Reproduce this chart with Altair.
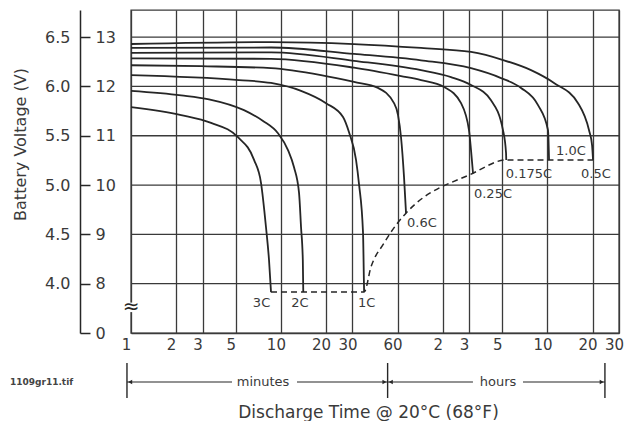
import altair as alt
import pandas as pd

# ---------------- data ----------------
curve_names = ["3C", "2C", "1C", "0.6C", "0.25C", "0.175C", "0.1C", "0.05C"]

t_3c = [1, 2.16, 3.42, 5.17, 6.62, 7.37, 7.95, 8.33, 8.59]
v_3c = [11.58, 11.42, 11.26, 10.97, 10.51, 10.04, 9.15, 8.48, 7.83]

t_2c = [1, 2.16, 3.31, 5.67, 7.60, 9.56, 11.15, 12.23, 13.21, 13.62, 14.0, 14.1]
v_2c = [11.91, 11.82, 11.74, 11.52, 11.30, 11.05, 10.71, 10.36, 9.84, 9.15, 8.48, 7.83]

t_1c = [1, 5.25, 8.59, 13.62, 20.0, 25.96, 28.47, 31.70, 33.19, 35.3, 35.8, 35.9]
v_1c = [12.23, 12.13, 12.07, 11.91, 11.66, 11.38, 11.07, 10.51, 10.02, 9.03, 8.01, 7.83]

t_06c = [1, 2.93, 8.59, 18.5, 30.73, 44.44, 56.82, 60.42, 63.27, 66.26, 68.33]
v_06c = [12.43, 12.41, 12.37, 12.23, 12.09, 11.97, 11.66, 11.42, 10.97, 10.16, 9.43]

t_025c = [1, 8.59, 30.73, 63.27, 86.03, 122.5, 159.1, 179.8, 185.4, 191.2]
v_025c = [12.57, 12.56, 12.38, 12.21, 12.13, 11.99, 11.66, 11.11, 10.71, 10.24]

t_0175c = [1, 8.59, 30.73, 86.03, 136.4, 185.4, 252.1, 303.2, 317.5, 318.5]
v_0175c = [12.68, 12.69, 12.52, 12.33, 12.19, 12.03, 11.72, 11.11, 10.65, 10.51]

t_01c = [1, 8.59, 30.73, 86.03, 185.4, 294.0, 399.7, 519.0, 605.2, 614.6]
v_01c = [12.78, 12.79, 12.66, 12.53, 12.37, 12.17, 11.97, 11.62, 11.11, 10.51]

t_005c = [1, 8.59, 30.73, 86.03, 185.4, 307.8, 466.1, 663.5, 959.4, 1136, 1190, 1208]
v_005c = [12.86, 12.90, 12.86, 12.78, 12.70, 12.53, 12.33, 12.07, 11.66, 11.11, 10.81, 10.51]

curve_t = [t_3c, t_2c, t_1c, t_06c, t_025c, t_0175c, t_01c, t_005c]
curve_v = [v_3c, v_2c, v_1c, v_06c, v_025c, v_0175c, v_01c, v_005c]

# end-of-discharge (dashed) line
end_t = [8.59, 35.9, 39.9, 48.7, 58.6, 68.33, 191.2, 318.5, 1208]
end_v = [7.83, 7.83, 8.34, 8.82, 9.19, 9.43, 10.24, 10.51, 10.51]

# curve labels
label_text = ["3C", "2C", "1C", "0.6C", "0.25C", "0.175C", "1.0C", "0.5C"]
label_t = [6.5, 11.7, 32.7, 69.4, 194, 316, 684, 1005]
label_v = [7.61, 7.61, 7.61, 9.23, 9.82, 10.22, 10.69, 10.22]

# axes
x_tick_values = [1, 2, 3, 5, 10, 20, 30, 60, 120, 180, 300, 600, 1200, 1800]
x_tick_labels = ["1", "2", "3", "5", "10", "20", "30", "60", "2", "3", "5", "10", "20", "30"]
y_tick_values = [7, 8, 9, 10, 11, 12, 13]
y_labels_12v = ["0", "8", "9", "10", "11", "12", "13"]
y6_tick_values = [8, 9, 10, 11, 12, 13]
y_labels_6v = ["4.0", "4.5", "5.0", "5.5", "6.0", "6.5"]
grid_v = [8, 9, 10, 11, 12, 13]

# minutes / hours span row
span_bar_t = [0.94, 51.5, 1450]
span_seg_start = [0.94, 12.8, 51.5, 412]
span_seg_end = [4.72, 51.5, 191, 1450]
span_text = ["minutes", "hours"]
span_text_t = [7.6, 281]
arrow_t = [0.94 * 1.05, 51.5 / 1.05, 51.5 * 1.05, 1450 / 1.05]
arrow_shape = ["triangle-left", "triangle-right", "triangle-left", "triangle-right"]

break_t = [1]
break_v = [7.52]

# ---------------- styling ----------------
FONT = "DejaVu Sans"
INK = "#262626"
GRID = "#3a3a3a"
TXT = "#3a3a3a"
W, H = 488, 323


def label_expr(values, labels):
    return " : ".join(f"datum.value == {v} ? '{l}'" for v, l in zip(values, labels)) + " : ''"


xs = alt.Scale(type="log", domain=[1, 1800], nice=False)
ys = alt.Scale(domain=[7, 13.55], nice=False, zero=False)

x_axis = alt.Axis(
    values=x_tick_values, labelExpr=label_expr(x_tick_values, x_tick_labels),
    grid=True, gridColor=GRID, gridWidth=1.3, ticks=False, tickSize=0,
    domain=True, domainColor=GRID, domainWidth=1.4,
    labelPadding=4, labelOffset=-5, labelFlush=False, labelOverlap=False,
    labelFont=FONT, labelFontSize=15, labelColor=TXT,
    title="Discharge Time @ 20°C (68°F)", titleFont=FONT, titleFontSize=17,
    titleFontWeight="normal", titleColor=TXT, titleX=237, titleY=71,
)

y_axis_6v = alt.Axis(
    orient="left", offset=51, values=y6_tick_values,
    labelExpr=label_expr(y6_tick_values, y_labels_6v),
    ticks=False, tickSize=0, domain=True, domainColor=INK, domainWidth=1.5,
    grid=False, labelPadding=10, labelFont=FONT, labelFontSize=16, labelColor=TXT,
    title="Battery Voltage (V)", titleFont=FONT, titleFontSize=16,
    titleFontWeight="normal", titleColor=TXT, titleX=-52, titleY=134,
)

y_axis_12v = alt.Axis(
    orient="right", offset=-(W + 51), values=y_tick_values,
    labelExpr=label_expr(y_tick_values, y_labels_12v),
    ticks=True, tickSize=10, tickColor=INK, tickWidth=1.5,
    domain=False, grid=False, labelPadding=5,
    labelFont=FONT, labelFontSize=16, labelColor=TXT, title="",
)

# ---------------- frames ----------------
rows = []
for name, ts, vs in zip(curve_names, curve_t, curve_v):
    for i, (t, v) in enumerate(zip(ts, vs)):
        rows.append({"curve": name, "t": t, "v": v, "i": i})
curves_df = pd.DataFrame(rows)
end_df = pd.DataFrame({"t": end_t, "v": end_v, "i": list(range(len(end_t)))})
labels_df = pd.DataFrame({"t": label_t, "v": label_v, "label": label_text})
grid_df = pd.DataFrame({"v": grid_v})
bars_df = pd.DataFrame({"t": span_bar_t})
segs_df = pd.DataFrame({"t": span_seg_start, "t2": span_seg_end})
stext_df = pd.DataFrame({"t": span_text_t, "label": span_text})
arrows_df = pd.DataFrame({"t": arrow_t, "shape": arrow_shape})
break_df = pd.DataFrame({"t": break_t, "v": break_v})
file_df = pd.DataFrame({"label": ["1109gr11.tif"]})

X = lambda f="t": alt.X(f"{f}:Q", scale=xs, axis=x_axis)

hgrid = alt.Chart(grid_df).mark_rule(color=GRID, strokeWidth=1.3).encode(
    y=alt.Y("v:Q", scale=ys, axis=y_axis_6v)
)

curves = alt.Chart(curves_df).mark_line(
    color=INK, strokeWidth=1.8, interpolate="monotone"
).encode(
    x=X(), y=alt.Y("v:Q", scale=ys, axis=y_axis_12v),
    detail="curve:N", order="i:Q",
)

endline = alt.Chart(end_df).mark_line(
    color=INK, strokeWidth=1.5, strokeDash=[6, 4], interpolate="monotone"
).encode(x=X(), y=alt.Y("v:Q", scale=ys, axis=None), order="i:Q")

labels = alt.Chart(labels_df).mark_text(
    align="left", baseline="middle", font=FONT, fontSize=13, color=TXT
).encode(x=X(), y=alt.Y("v:Q", scale=ys, axis=None), text="label:N")

break_bg = alt.Chart(break_df).mark_point(
    shape="square", filled=True, color="white", opacity=1, size=90
).encode(x=X(), y=alt.Y("v:Q", scale=ys, axis=None))

break_sym = alt.Chart(break_df).mark_text(
    text="≈", font=FONT, fontSize=20, color=INK, baseline="middle", align="center"
).encode(x=X(), y=alt.Y("v:Q", scale=ys, axis=None))

span_bars = alt.Chart(bars_df).mark_rule(color=INK, strokeWidth=1.4).encode(
    x=X(), y=alt.value(353), y2=alt.value(388)
)
span_segs = alt.Chart(segs_df).mark_rule(color=INK, strokeWidth=1.1).encode(
    x=X(), x2="t2:Q", y=alt.value(372)
)
span_txt = alt.Chart(stext_df).mark_text(
    font=FONT, fontSize=13, color=TXT, baseline="middle", align="center"
).encode(x=X(), y=alt.value(372), text="label:N")
span_arrows = alt.Chart(arrows_df).mark_point(
    filled=True, color=INK, opacity=1, size=22
).encode(x=X(), y=alt.value(372), shape=alt.Shape("shape:N", scale=None))

file_txt = alt.Chart(file_df).mark_text(
    font=FONT, fontSize=9, fontWeight="bold", color="#444", align="left", baseline="middle"
).encode(x=alt.value(-121), y=alt.value(372), text="label:N")

chart = alt.layer(
    hgrid, curves, endline, labels, break_bg, break_sym,
    span_bars, span_segs, span_txt, span_arrows, file_txt,
).resolve_axis(y="independent").properties(
    width=W, height=H,
    padding={"left": 123, "top": 2, "right": 6, "bottom": 88},
    autosize=alt.AutoSizeParams(type="none"),
    background="white",
).configure_view(stroke=GRID, strokeWidth=1.4)

chart.save("out.html", embed_options={"renderer": "svg", "actions": False})
